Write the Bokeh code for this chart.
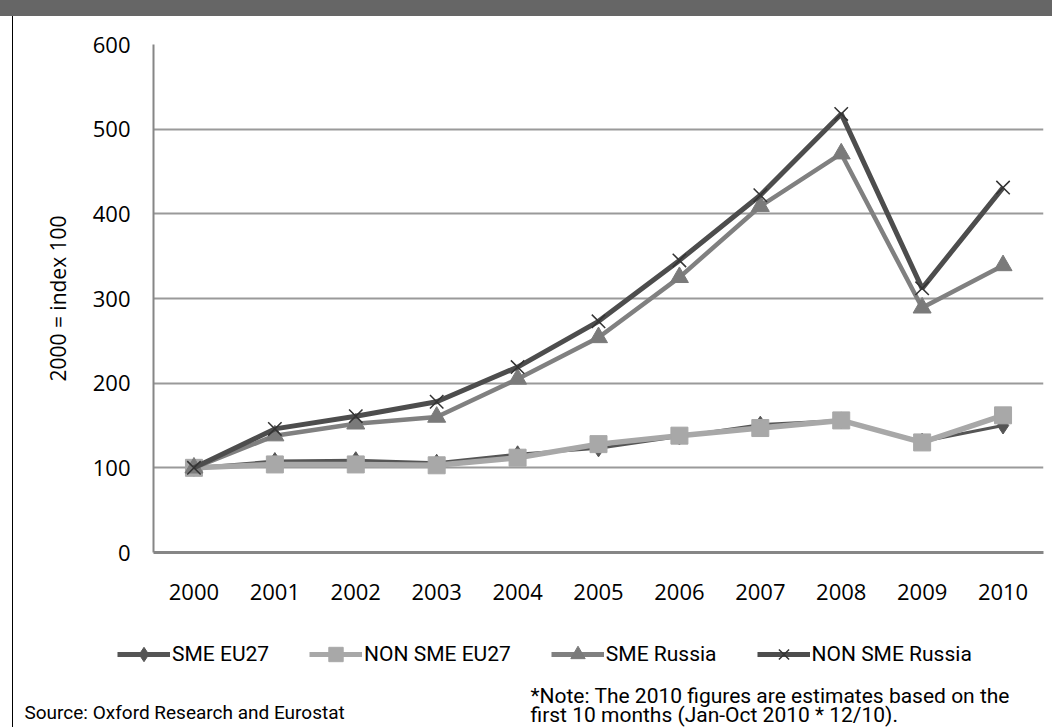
from bokeh.plotting import figure
from bokeh.models import FactorRange, Range1d, FixedTicker, Legend, LegendItem, Label, Div
from bokeh.layouts import column, row
from bokeh.embed import file_html
from bokeh.resources import INLINE

years = [str(y) for y in range(2000, 2011)]
sme_eu27 = [100, 108, 109, 106, 116, 123, 137, 151, 156, 131, 150]
non_sme_eu27 = [100, 104, 104, 103, 112, 128, 138, 147, 156, 130, 162]
sme_russia = [100, 138, 152, 160, 205, 254, 325, 409, 471, 289, 339]
non_sme_russia = [100, 146, 161, 178, 219, 273, 345, 422, 518, 312, 431]
y_ticks = [0, 100, 200, 300, 400, 500, 600]
series_names = ["SME EU27", "NON SME EU27", "SME Russia", "NON SME Russia"]
source_text = "Source: Oxford Research and Eurostat"
note_lines = ["*Note: The 2010 figures are estimates based on the",
              "first 10 months (Jan-Oct 2010 * 12/10)."]

styles = [
    dict(marker="diamond", size=17, line_color="#555555", line_width=3, mcolor="#555555"),
    dict(marker="square", size=17, line_color="#a8a8a8", line_width=5.5, mcolor="#a8a8a8"),
    dict(marker="triangle", size=18, line_color="#808080", line_width=4.5, mcolor="#7a7a7a"),
    dict(marker="x", size=19, line_color="#4d4d4d", line_width=5, mcolor="#333333"),
]

W = 1039
H_P = 599
H_Q = 112

p = figure(x_range=FactorRange(*years, range_padding=0), y_range=Range1d(0, 600),
           width=W, height=H_P, output_backend="svg", toolbar_location=None,
           min_border_left=140, min_border_right=9, min_border_top=28, min_border_bottom=63)
p.outline_line_color = None
p.background_fill_color = "white"
p.border_fill_color = "white"

p.xgrid.grid_line_color = None
p.ygrid.grid_line_color = "#9a9a9a"
p.ygrid.grid_line_width = 2
p.yaxis.ticker = FixedTicker(ticks=y_ticks)

for ax in (p.xaxis[0], p.yaxis[0]):
    ax.axis_line_color = "#868686"
    ax.major_tick_line_color = None
    ax.minor_tick_line_color = None
    ax.major_label_text_font = "Open Sans"
    ax.major_label_text_font_size = "22px"
    ax.major_label_text_color = "#000000"
p.xaxis.axis_line_width = 3
p.yaxis.axis_line_width = 2
p.xaxis.major_label_standoff = 25
p.yaxis.major_label_standoff = 17
p.yaxis.axis_label = "2000 = index 100"
p.yaxis.axis_label_text_font = "Open Sans"
p.yaxis.axis_label_text_font_size = "21px"
p.yaxis.axis_label_text_font_style = "normal"
p.yaxis.axis_label_text_color = "#000000"
p.yaxis.axis_label_standoff = 18

series = [sme_eu27, non_sme_eu27, sme_russia, non_sme_russia]
for vals, st in zip(series, styles):
    p.line(years, vals, line_color=st["line_color"], line_width=st["line_width"])
    if st["marker"] == "x":
        p.scatter(years, vals, marker="x", size=st["size"], line_color=st["mcolor"], line_width=1.5)
    else:
        p.scatter(years, vals, marker=st["marker"], size=st["size"],
                  fill_color=st["mcolor"], line_color=st["mcolor"])

# strip below the chart: legend and notes (pixel coordinates)
q = figure(x_range=Range1d(0, W), y_range=Range1d(H_Q, 0), width=W, height=H_Q,
           output_backend="svg", toolbar_location=None,
           x_axis_location=None, y_axis_location=None,
           min_border_left=0, min_border_right=0, min_border_top=0, min_border_bottom=0)
q.outline_line_color = None
q.xgrid.grid_line_color = None
q.ygrid.grid_line_color = None
q.background_fill_color = "white"
q.border_fill_color = "white"

nan = float("nan")
items = []
for name, st in zip(series_names, styles):
    lr = q.line(x=[nan], y=[nan], line_color=st["line_color"], line_width=5)
    if st["marker"] == "x":
        sr = q.scatter(x=[nan], y=[nan], marker="x", size=st["size"] - 2,
                       line_color=st["mcolor"], line_width=1.5)
    else:
        sr = q.scatter(x=[nan], y=[nan], marker=st["marker"], size=st["size"] - 2,
                       fill_color=st["mcolor"], line_color=st["mcolor"])
    items.append(LegendItem(label=name, renderers=[lr, sr]))

legend = Legend(items=items, orientation="horizontal", location=(104, 55))
legend.border_line_color = None
legend.background_fill_alpha = 0
legend.label_text_font = "Roboto"
legend.label_text_font_size = "21px"
legend.label_text_color = "#000000"
legend.glyph_width = 53
legend.glyph_height = 36
legend.label_standoff = 2
legend.spacing = 40
legend.padding = 2
legend.margin = 0
q.add_layout(legend)

note_font = "Roboto"
q.add_layout(Label(x=11, y=97, text=source_text, text_font=note_font, text_font_size="19px",
                   text_baseline="middle", text_color="#000000"))
q.add_layout(Label(x=517, y=80, text=note_lines[0], text_font=note_font, text_font_size="21px",
                   text_baseline="middle", text_color="#000000"))
q.add_layout(Label(x=517, y=99, text=note_lines[1], text_font=note_font, text_font_size="21px",
                   text_baseline="middle", text_color="#000000"))

band = Div(text="", width=1052, height=16, margin=0, styles={"background-color": "#666666"})
spacer1 = Div(text="", width=12, height=H_P, margin=0)
border1 = Div(text="", width=1, height=H_P, margin=0, styles={"background-color": "#000000"})
spacer2 = Div(text="", width=12, height=H_Q, margin=0)
border2 = Div(text="", width=1, height=H_Q, margin=0, styles={"background-color": "#000000"})
layout = column(band,
                row(spacer1, border1, p, spacing=0),
                row(spacer2, border2, q, spacing=0),
                spacing=0)

open("out.html", "w").write(file_html(layout, INLINE))
